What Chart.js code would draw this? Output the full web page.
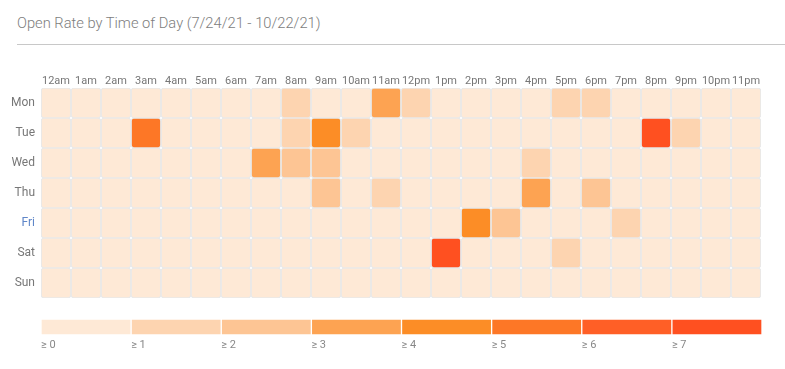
<!DOCTYPE html>
<html>
<head>
<meta charset="utf-8">
<script src="https://cdn.jsdelivr.net/npm/chart.js@4"></script>
<style>
  html, body { margin: 0; padding: 0; background: #fff; }
  body { width: 785px; height: 369px; position: relative; overflow: hidden; font-family: Roboto, "Noto Sans", sans-serif; }
  #title { position: absolute; left: 17px; top: 14px; font-size: 14.7px; font-weight: 300; color: #7d7d7d; white-space: nowrap; }
  #rule { position: absolute; left: 17px; top: 44px; width: 768px; height: 1px; background: #c8c8c8; }
  #heatWrap { position: absolute; left: 0; top: 60px; width: 785px; height: 245px; }
  #legWrap { position: absolute; left: 0; top: 305px; width: 785px; height: 60px; }
</style>
</head>
<body>
<div id="title">Open Rate by Time of Day (7/24/21 - 10/22/21)</div>
<div id="rule"></div>
<div id="heatWrap"><canvas id="heat"></canvas></div>
<div id="legWrap"><canvas id="leg"></canvas></div>
<script>
// ---- data ----
const hours = ['12am','1am','2am','3am','4am','5am','6am','7am','8am','9am','10am','11am',
               '12pm','1pm','2pm','3pm','4pm','5pm','6pm','7pm','8pm','9pm','10pm','11pm'];
const days = ['Mon','Tue','Wed','Thu','Fri','Sat','Sun'];
const monVals = [0,0,0,0,0,0,0,0,1.2,0,0,3.4,1.1,0,0,0,0,1.3,1.2,0,0,0,0,0];
const tueVals = [0,0,0,5.3,0,0,0,0,1.2,4.4,1.3,0,0,0,0,0,0,0,0,0,7.5,1.2,0,0];
const wedVals = [0,0,0,0,0,0,0,3.2,2.1,2.2,0,0,0,0,0,0,1.3,0,0,0,0,0,0,0];
const thuVals = [0,0,0,0,0,0,0,0,0,2.3,0,1.6,0,0,0,0,3.3,0,2.1,0,0,0,0,0];
const friVals = [0,0,0,0,0,0,0,0,0,0,0,0,0,0,4.2,2.4,0,0,0,1.1,0,0,0,0];
const satVals = [0,0,0,0,0,0,0,0,0,0,0,0,0,7.3,0,0,0,1.2,0,0,0,0,0,0];
const sunVals = [0,0,0,0,0,0,0,0,0,0,0,0,0,0,0,0,0,0,0,0,0,0,0,0];
const thresholds = [0,1,2,3,4,5,6,7];
const legendLabels = ['≥ 0','≥ 1','≥ 2','≥ 3','≥ 4','≥ 5','≥ 6','≥ 7'];
const palette = ['#fee9d6','#fdd4b0','#fdc594','#fda352','#fc8d26','#fd7726','#ff5f26','#ff5020'];

const dayValues = [monVals, tueVals, wedVals, thuVals, friVals, satVals, sunVals];

function colorFor(v) {
  let idx = 0;
  for (let i = 0; i < thresholds.length; i++) if (v >= thresholds[i]) idx = i;
  return palette[idx];
}

const fontFam = 'Roboto, "Noto Sans", sans-serif';

// ---- heatmap ----
const heatDatasets = dayValues.map((vals, d) => ({
  label: days[d],
  data: vals.map(() => [d, d + 1]),
  backgroundColor: vals.map(colorFor),
  borderColor: '#e9e9e9',
  borderWidth: 1.2,
  borderRadius: 3,
  borderSkipped: false,
  grouped: false,
  categoryPercentage: 1,
  barPercentage: 1
}));

new Chart(document.getElementById('heat'), {
  type: 'bar',
  data: { labels: hours, datasets: heatDatasets },
  options: {
    responsive: true,
    maintainAspectRatio: false,
    animation: false,
    layout: { padding: { left: 0, right: 24, top: 0, bottom: 7 } },
    plugins: { legend: { display: false }, tooltip: { enabled: false } },
    scales: {
      x: {
        type: 'category',
        position: 'top',
        grid: { display: false, drawTicks: false },
        border: { display: false },
        ticks: { color: '#777', font: { family: fontFam, size: 11 }, padding: 0, autoSkip: false, maxRotation: 0 },
        afterFit: s => { s.height = 28; s.paddingLeft = 0; s.paddingRight = 0; }
      },
      y: {
        type: 'linear', min: 0, max: 7, reverse: true, display: false
      },
      yDays: {
        type: 'category',
        labels: days,
        position: 'left',
        offset: true,
        grid: { display: false, drawTicks: false },
        border: { display: false },
        ticks: {
          font: { family: fontFam, size: 12 },
          padding: 6,
          color: ctx => days[ctx.index] === 'Fri' ? '#5f86c8' : '#777'
        },
        afterFit: s => { s.width = 41; s.paddingTop = 0; s.paddingBottom = 0; }
      }
    }
  }
});

// ---- legend ----
const legDatasets = thresholds.map((t, i) => ({
  label: legendLabels[i],
  data: [1],
  backgroundColor: palette[i],
  borderColor: 'rgba(255,255,255,0.35)',
  borderWidth: 1,
  borderSkipped: false,
  categoryPercentage: 1,
  barPercentage: 1
}));

new Chart(document.getElementById('leg'), {
  type: 'bar',
  data: { labels: [''], datasets: legDatasets },
  options: {
    indexAxis: 'y',
    responsive: true,
    maintainAspectRatio: false,
    animation: false,
    layout: { padding: { left: 41, right: 23, top: 14, bottom: 0 } },
    plugins: { legend: { display: false }, tooltip: { enabled: false } },
    scales: {
      x: {
        type: 'linear', min: 0, max: 8, stacked: true,
        grid: { display: false, drawTicks: false },
        border: { display: false },
        ticks: {
          stepSize: 1, autoSkip: false, align: 'start', padding: 4, maxRotation: 0,
          color: '#888', font: { family: fontFam, size: 11 },
          callback: v => (legendLabels[v] !== undefined ? legendLabels[v] : '')
        },
        afterFit: s => { s.height = 30; s.paddingLeft = 0; s.paddingRight = 0; }
      },
      y: { stacked: true, display: false }
    }
  }
});
</script>
</body>
</html>
